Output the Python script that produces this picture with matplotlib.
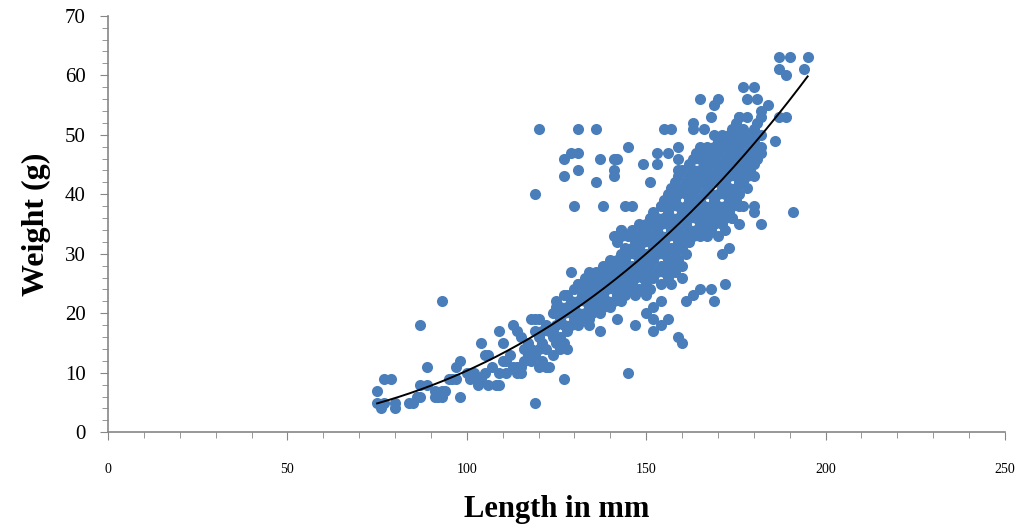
import numpy as np
import matplotlib
matplotlib.use("Agg")
import matplotlib.pyplot as plt
from matplotlib.ticker import MultipleLocator

# (length mm, weight g), grouped by region
tail_pts = [(75, 7), (75, 5), (77, 5), (76, 4), (80, 5), (80, 4), (77, 9), (79, 9),
            (84, 5), (85, 5), (86, 6), (87, 6), (87, 8), (89, 8), (91, 6), (91, 7),
            (92, 6), (93, 7), (94, 7), (93, 6), (87, 18), (93, 22), (89, 11), (98, 6),
            (97, 11), (98, 12), (96, 9), (97, 9), (95, 9), (100, 10), (103, 8), (103, 9),
            (104, 9), (104, 15), (105, 13), (106, 13), (106, 8), (107, 11), (108, 8),
            (109, 8), (109, 10), (109, 17), (110, 15), (111, 10), (114, 10), (115, 10),
            (111, 12), (112, 13), (113, 18), (114, 17), (115, 16), (113, 11), (114, 11),
            (115, 11), (116, 12), (117, 13), (116, 14), (117, 15), (118, 14), (118, 19),
            (119, 19), (120, 19), (119, 5), (120, 11), (122, 11), (123, 11), (127, 9),
            (119, 17), (120, 16), (121, 15), (122, 14), (118, 12), (119, 13), (120, 14),
            (121, 17), (122, 18), (123, 17), (124, 16), (125, 15), (126, 14), (124, 13),
            (127, 15), (128, 14), (121, 12), (101, 9), (102, 10), (105, 10), (110, 12)]

band_rows = {
    124: [17, 20], 125: [18, 21, 22], 126: [16, 19, 21], 127: [18, 20, 23],
    128: [17, 21, 23], 129: [18, 20, 22], 130: [19, 21, 24],
    131: [18, 20, 22, 25], 132: [19, 23], 133: [20, 22, 24, 26],
    134: [19, 21, 25], 135: [20, 22, 23, 26], 136: [21, 24, 25, 27],
    137: [20, 22, 26], 138: [21, 23, 25, 28], 139: [22, 24, 26, 27, 28],
    140: [21, 25, 27, 29], 141: [22, 24, 26, 28, 33], 142: [23, 25, 26, 29, 32],
    143: [22, 24, 27, 28, 30, 34], 144: [23, 25, 27, 29, 31], 145: [24, 26, 28, 30, 33],
    146: [25, 27, 28, 31, 34], 147: [23, 26, 30, 32], 148: [24, 27, 29, 31, 33, 35],
    149: [26, 28, 30, 32, 34], 150: [25, 27, 29, 30, 33, 35],
    151: [24, 28, 30, 32, 36], 152: [26, 29, 31, 33, 35, 37],
    153: [27, 30, 32, 34, 36], 154: [25, 28, 31, 33, 35, 38],
    155: [27, 30, 32, 36, 39], 156: [26, 29, 33, 35, 37, 40],
    157: [28, 31, 34, 36, 38, 41], 158: [27, 30, 33, 35, 39, 42],
    159: [29, 32, 34, 36, 38, 40, 43], 160: [28, 31, 33, 37, 41, 44],
    161: [30, 33, 35, 38, 40, 42], 162: [32, 34, 36, 39, 41, 43, 45],
    163: [33, 37, 40, 42, 44, 46], 164: [34, 36, 38, 41, 43, 47],
    165: [33, 35, 37, 39, 42, 44, 46, 48], 166: [34, 36, 38, 40, 43, 45, 47],
    167: [33, 35, 37, 41, 44, 46, 48], 168: [34, 36, 38, 40, 42, 45, 47],
    169: [35, 37, 39, 43, 46, 48, 50], 170: [33, 36, 38, 40, 42, 44, 47, 49],
    171: [35, 37, 41, 43, 45, 48, 50], 172: [34, 36, 38, 40, 42, 44, 46, 49],
    173: [37, 39, 41, 43, 45, 47, 50], 174: [36, 38, 40, 44, 46, 48, 51],
    175: [39, 41, 43, 45, 47, 49, 52], 176: [38, 40, 42, 44, 46, 48, 50, 53],
    177: [42, 44, 46, 49, 51], 178: [41, 43, 45, 47, 50, 53],
    179: [44, 46, 48, 50], 180: [45, 47, 49, 51], 181: [46, 48, 52], 182: [47, 50],
}

upper_pts = [(120, 51), (131, 51), (136, 51), (145, 48), (129, 47), (131, 47), (127, 46),
             (137, 46), (141, 46), (142, 46), (149, 45), (131, 44), (127, 43), (141, 44),
             (141, 43), (136, 42), (151, 42), (119, 40), (130, 38), (138, 38), (144, 38),
             (146, 38), (155, 51), (157, 51), (153, 47), (156, 47), (159, 48), (153, 45),
             (159, 46), (159, 44), (154, 38), (156, 38), (143, 34), (143, 33),
             (142, 33), (150, 34), (152, 36), (155, 36), (157, 36)]

top_right_pts = [(187, 63), (190, 63), (195, 63), (187, 61), (189, 60), (194, 61),
                 (177, 58), (180, 58), (165, 56), (170, 56), (169, 55), (178, 56),
                 (181, 56), (184, 55), (182, 54), (182, 53), (168, 53), (163, 52),
                 (163, 51), (166, 51), (176, 53), (187, 53), (189, 53), (186, 49),
                 (182, 48), (179, 46), (180, 43), (191, 37), (177, 38), (180, 38),
                 (180, 37), (182, 35), (174, 36), (176, 35), (173, 31), (171, 30)]

low_right_pts = [(165, 24), (168, 24), (172, 25), (163, 23), (161, 22), (169, 22),
                 (154, 22), (152, 21), (152, 19), (156, 19), (154, 18), (152, 17),
                 (159, 16), (160, 15), (147, 18), (142, 19), (137, 17), (134, 18),
                 (145, 10), (150, 20), (129, 27), (134, 27), (131, 25), (157, 25),
                 (160, 26), (150, 23)]

pts = tail_pts + [(x, y) for x, ys in band_rows.items() for y in ys] \
    + upper_pts + top_right_pts + low_right_pts
length_mm = np.array([p[0] for p in pts], dtype=float)
weight_g = np.array([p[1] for p in pts], dtype=float)

# power trendline fitted on log scale
b, log_a = np.polyfit(np.log(length_mm), np.log(weight_g), 1)
xs = np.linspace(length_mm.min(), length_mm.max(), 200)
ys = np.exp(log_a) * xs ** b

plt.rcParams['font.family'] = ['Liberation Serif', 'DejaVu Serif']

fig = plt.figure(figsize=(10.21, 5.29), dpi=100)
ax = fig.add_axes([0.1058, 0.1828, 0.8785, 0.7875])

ax.scatter(length_mm, weight_g, s=64, color='#4A7EBB', linewidths=0, zorder=2)
ax.plot(xs, ys, color='black', lw=1.4, zorder=3)

ax.set_xlim(0, 250)
ax.set_ylim(0, 70)
ax.xaxis.set_major_locator(MultipleLocator(50))
ax.xaxis.set_minor_locator(MultipleLocator(10))
ax.yaxis.set_major_locator(MultipleLocator(10))
ax.yaxis.set_minor_locator(MultipleLocator(2))

for s in ['top', 'right']:
    ax.spines[s].set_visible(False)
for s in ['left', 'bottom']:
    ax.spines[s].set_color('#868686')
    ax.spines[s].set_linewidth(1.2)

ax.tick_params(axis='x', which='major', length=6, color='#868686', labelsize=10, pad=16)
ax.tick_params(axis='x', which='minor', length=4, color='#868686')
ax.tick_params(axis='y', which='major', length=6, color='#868686', labelsize=15, pad=10)
ax.tick_params(axis='y', which='minor', length=4, color='#868686')

ax.set_xlabel('Length in mm', fontsize=22, fontweight='bold', labelpad=14)
ax.set_ylabel('Weight (g)', fontsize=23, fontweight='bold', labelpad=10)

fig.savefig('out.png', dpi=100)
